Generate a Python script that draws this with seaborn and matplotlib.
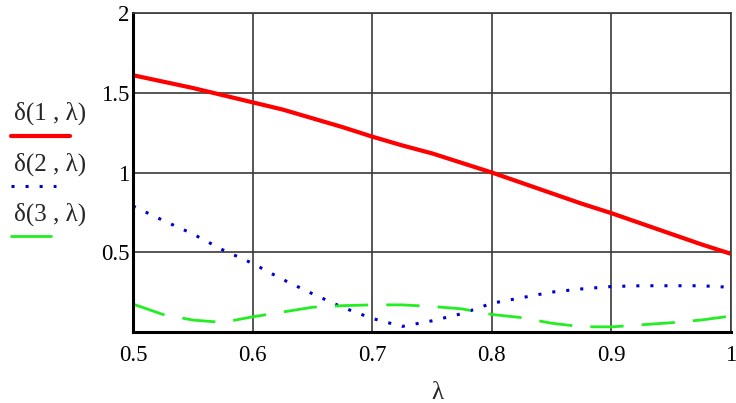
import numpy as np
import pandas as pd
import matplotlib
matplotlib.use("Agg")
import matplotlib.pyplot as plt
from matplotlib.lines import Line2D
import seaborn as sns

# ── Data ──────────────────────────────────────────────────────────────────
lam = [0.5, 0.525, 0.55, 0.575, 0.6, 0.625, 0.65, 0.675, 0.7, 0.725, 0.75,
       0.775, 0.8, 0.825, 0.85, 0.875, 0.9, 0.925, 0.95, 0.975, 1.0]
delta1 = [1.61, 1.57, 1.53, 1.485, 1.44, 1.395, 1.34, 1.285, 1.225, 1.17, 1.12,
          1.06, 1.00, 0.935, 0.87, 0.805, 0.745, 0.68, 0.615, 0.55, 0.49]
delta2 = [0.79, 0.70, 0.615, 0.515, 0.43, 0.33, 0.24, 0.155, 0.085, 0.035, 0.07,
          0.115, 0.18, 0.215, 0.25, 0.27, 0.285, 0.29, 0.29, 0.29, 0.28]
delta3 = [0.175, 0.11, 0.075, 0.06, 0.095, 0.125, 0.155, 0.165, 0.17, 0.17, 0.16,
          0.145, 0.11, 0.09, 0.055, 0.033, 0.032, 0.045, 0.058, 0.075, 0.10]

x_ticks = [0.5, 0.6, 0.7, 0.8, 0.9, 1.0]
x_labels = ["0.5", "0.6", "0.7", "0.8", "0.9", "1"]
y_ticks = [0.5, 1.0, 1.5, 2.0]
y_labels = ["0.5", "1", "1.5", "2"]
legend_labels = ["δ(1 , λ)", "δ(2 , λ)", "δ(3 , λ)"]

df = pd.DataFrame({"lam": lam, "d1": delta1, "d2": delta2, "d3": delta3})

sns.set_style("white")
plt.rcParams['font.family'] = ['Liberation Serif', 'DejaVu Serif']

fig = plt.figure(figsize=(7.36, 4.03), dpi=100)
ax = fig.add_axes([0.1807, 0.1762, 0.8125, 0.7915])

red, blue, green = "#ff0000", "#0000cc", "#22ee22"
dot_style = (0, (1, 3.6))
dash_style = (0, (12, 6.5))

sns.lineplot(data=df, x="lam", y="d1", ax=ax, color=red, lw=3.0)
sns.lineplot(data=df, x="lam", y="d2", ax=ax, color=blue, lw=2.2,
             linestyle=dot_style, dash_capstyle="butt")
sns.lineplot(data=df, x="lam", y="d3", ax=ax, color=green, lw=2.0,
             linestyle=dash_style, dash_capstyle="butt")

ax.set_xlim(0.5, 1.0)
ax.set_ylim(0, 2)
ax.set_xticks(x_ticks)
ax.set_xticklabels(x_labels)
ax.set_yticks(y_ticks)
ax.set_yticklabels(y_labels)
ax.set_xlabel("")
ax.set_ylabel("")
ax.grid(True, color="#3a3a3a", lw=1.2)
ax.set_axisbelow(True)

for side in ["top", "right"]:
    ax.spines[side].set_color("#3a3a3a")
    ax.spines[side].set_linewidth(1.2)
for side in ["left", "bottom"]:
    ax.spines[side].set_color("black")
    ax.spines[side].set_linewidth(2.2)

ax.tick_params(axis="both", direction="inout", length=9, width=2.2,
               color="black", labelsize=16.5, labelcolor="black")
ax.tick_params(axis="x", pad=5)
ax.tick_params(axis="y", pad=-2)

fig.text(0.595, 1 - 393 / 403, "λ", fontsize=18, ha="center", va="center")

# legend drawn Mathcad-style: label above line sample
W, H = 736, 403
leg = [(legend_labels[0], red, "-", 3.0, 113, 136, 70),
       (legend_labels[1], blue, dot_style, 2.2, 164, 186, 56),
       (legend_labels[2], green, "-", 2.0, 214, 236, 51)]
for txt, c, ls, lw, ty, ly, x2 in leg:
    fig.text(14 / W, 1 - ty / H, txt, fontsize=18, ha="left", va="center")
    fig.add_artist(Line2D([11 / W, x2 / W], [1 - ly / H, 1 - ly / H],
                          color=c, lw=lw, linestyle=ls,
                          dash_capstyle="butt", transform=fig.transFigure))

fig.savefig("out.png", dpi=100)
